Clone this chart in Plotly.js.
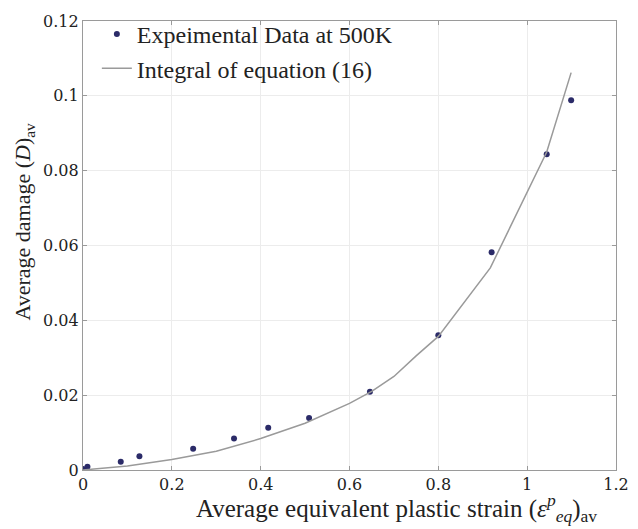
<!DOCTYPE html>
<html>
<head>
<meta charset="utf-8">
<script src="https://cdn.plot.ly/plotly-3.0.1.min.js"></script>
<style>html,body{margin:0;padding:0;background:#fff;}#chart{width:638px;height:529px;}</style>
</head>
<body>
<div id="chart"></div>
<script>
// Experimental data at 500K
const expStrain = [0, 0.01, 0.085, 0.127, 0.248, 0.34, 0.417, 0.509, 0.646, 0.80, 0.92, 1.044, 1.099];
const expDamage = [0.0003, 0.0009, 0.0022, 0.0037, 0.0057, 0.0084, 0.0113, 0.0139, 0.0209, 0.0360, 0.0582, 0.0844, 0.0988];
// Integral of equation (16)
const fitStrain = [0, 0.1, 0.2, 0.3, 0.4, 0.5, 0.6, 0.65, 0.7, 0.75, 0.8, 0.85, 0.917, 1.044, 1.099];
const fitDamage = [0, 0.0011, 0.0028, 0.005, 0.0084, 0.0125, 0.0178, 0.021, 0.025, 0.0305, 0.0357, 0.0435, 0.054, 0.085, 0.1062];

const xTicks = [0, 0.2, 0.4, 0.6, 0.8, 1, 1.2];
const xTickText = ['0', '0.2', '0.4', '0.6', '0.8', '1', '1.2'];
const yTicks = [0, 0.02, 0.04, 0.06, 0.08, 0.1, 0.12];
const yTickText = ['0', '0.02', '0.04', '0.06', '0.08', '0.1', '0.12'];

const serif = 'Liberation Serif';

const traces = [
  {
    x: expStrain, y: expDamage, type: 'scatter', mode: 'markers',
    name: 'Expeimental Data at 500K',
    marker: {color: '#2b2b68', size: 6}
  },
  {
    x: fitStrain, y: fitDamage, type: 'scatter', mode: 'lines',
    name: 'Integral of equation (16)',
    line: {color: '#9a9a9a', width: 1.5}
  }
];

const axisCommon = {
  showgrid: true, gridcolor: '#ececec', gridwidth: 1,
  zeroline: false, showline: true, linecolor: '#9a9a9a', linewidth: 1.2,
  mirror: 'ticks', ticks: 'inside', ticklen: 4, tickcolor: '#9a9a9a',
  tickfont: {family: 'DejaVu Serif', size: 16, color: '#222'}
};

const layout = {
  width: 638, height: 529,
  margin: {l: 83, r: 22, t: 15, b: 59},
  paper_bgcolor: '#fff', plot_bgcolor: '#fff',
  font: {family: serif},
  showlegend: true,
  legend: {x: 0.026, y: 1.02, xanchor: 'left', yanchor: 'top', bgcolor: 'rgba(0,0,0,0)',
           font: {family: serif, size: 24, color: '#222'}, tracegroupgap: 0, itemwidth: 30},
  xaxis: Object.assign({}, axisCommon, {range: [0, 1.2], tickvals: xTicks, ticktext: xTickText}),
  yaxis: Object.assign({}, axisCommon, {range: [0, 0.12], tickvals: yTicks, ticktext: yTickText}),
  annotations: [
    {text: 'Average equivalent plastic strain (<i>ε</i><sup><i>p</i></sup><sub><i>eq</i></sub>)<sub>av</sub>',
     xref: 'paper', yref: 'paper', x: 0.588, y: -0.04, xanchor: 'center', yanchor: 'top',
     showarrow: false, font: {family: serif, size: 25, color: '#222'}},
    {text: 'Average damage (<i>D</i>)<sub>av</sub>',
     xref: 'paper', yref: 'paper', x: -0.11, y: 0.554, xanchor: 'center', yanchor: 'middle',
     textangle: -90, showarrow: false, font: {family: serif, size: 22, color: '#222'}}
  ]
};

Plotly.newPlot('chart', traces, layout, {displayModeBar: false, staticPlot: true});
</script>
</body>
</html>
